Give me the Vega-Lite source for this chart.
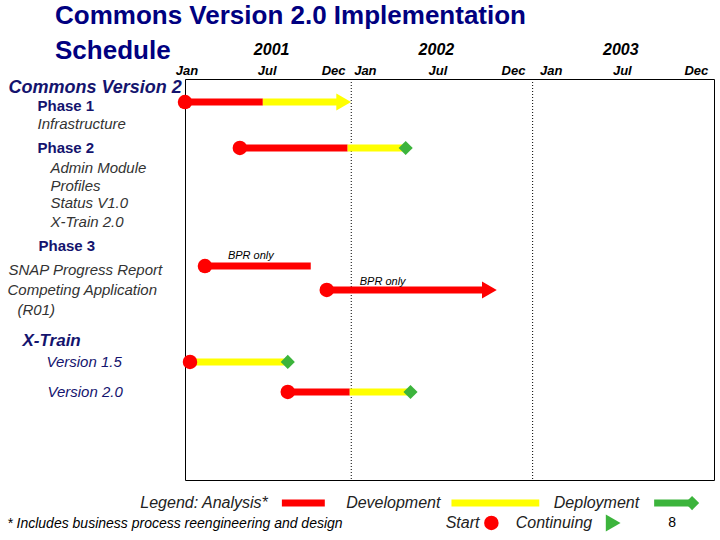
{
  "$schema": "https://vega.github.io/schema/vega-lite/v6.json",
  "autosize": {"type": "none"},
  "width": 529,
  "height": 401,
  "padding": {"left": 185, "top": 79, "right": 6, "bottom": 60},
  "background": "white",
  "title": {
    "text": ["Commons Version 2.0 Implementation", "Schedule"],
    "anchor": "start",
    "frame": "group",
    "dx": -130,
    "offset": -23,
    "lineHeight": 35,
    "font": "Liberation Sans",
    "fontSize": 26,
    "fontWeight": "bold",
    "color": "#000080"
  },
  "config": {
    "view": {"stroke": "black", "strokeWidth": 1},
    "font": "Liberation Sans"
  },
  "datasets": {
    "yearLines": [{"month": 12}, {"month": 24}],
    "segments": [
      {"task": "Phase 1", "phase": "Analysis", "start": 1, "end": 6.15, "row": 1.15},
      {"task": "Phase 1", "phase": "Development", "start": 6.15, "end": 11.3, "row": 1.15},
      {"task": "Phase 2", "phase": "Analysis", "start": 4.63, "end": 11.76, "row": 3.44},
      {"task": "Phase 2", "phase": "Development", "start": 11.76, "end": 15.4, "row": 3.44},
      {"task": "SNAP Progress Report", "phase": "Analysis", "start": 2.32, "end": 9.32, "row": 9.33},
      {"task": "Competing Application", "phase": "Analysis", "start": 10.38, "end": 20.8, "row": 10.52},
      {"task": "X-Train Version 1.5", "phase": "Development", "start": 1.33, "end": 7.6, "row": 14.11},
      {"task": "X-Train Version 2.0", "phase": "Analysis", "start": 7.8, "end": 11.9, "row": 15.61},
      {"task": "X-Train Version 2.0", "phase": "Development", "start": 11.9, "end": 15.7, "row": 15.61},
      {"task": "Legend", "phase": "Analysis", "start": 7.41, "end": 10.25, "row": 21.15},
      {"task": "Legend", "phase": "Development", "start": 18.63, "end": 24.44, "row": 21.15},
      {"task": "Legend", "phase": "Deployment", "start": 32.04, "end": 34.35, "row": 21.15}
    ],
    "starts": [
      {"task": "Phase 1", "month": 1, "row": 1.15},
      {"task": "Phase 2", "month": 4.63, "row": 3.44},
      {"task": "SNAP Progress Report", "month": 2.32, "row": 9.33},
      {"task": "Competing Application", "month": 10.38, "row": 10.52},
      {"task": "X-Train Version 1.5", "month": 1.33, "row": 14.11},
      {"task": "X-Train Version 2.0", "month": 7.8, "row": 15.61},
      {"task": "Legend Start", "month": 21.27, "row": 22.14}
    ],
    "deployments": [
      {"task": "Phase 2", "month": 15.6, "row": 3.44},
      {"task": "X-Train Version 1.5", "month": 7.8, "row": 14.11},
      {"task": "X-Train Version 2.0", "month": 15.92, "row": 15.61},
      {"task": "Legend", "month": 34.55, "row": 21.15}
    ],
    "continuing": [
      {"task": "Phase 1", "phase": "Development", "month": 11.5, "row": 1.15},
      {"task": "Competing Application", "phase": "Analysis", "month": 21.14, "row": 10.52},
      {"task": "Legend Continuing", "phase": "Deployment", "month": 29.33, "row": 22.14}
    ],
    "notes": [
      {"text": "BPR only", "month": 3.84, "row": 8.83},
      {"text": "BPR only", "month": 12.56, "row": 10.12}
    ],
    "legendText": [
      {"text": "Legend:  Analysis*", "month": 6.48, "row": 21.15},
      {"text": "Development", "month": 17.9, "row": 21.15},
      {"text": "Deployment", "month": 31.05, "row": 21.15},
      {"text": "Start", "month": 20.48, "row": 22.14},
      {"text": "Continuing", "month": 27.94, "row": 22.14}
    ],
    "footnote": [
      {"text": "* Includes business process reengineering and design", "month": 11.43, "row": 22.2}
    ],
    "pageNumber": [
      {"text": "8", "month": 33.23, "row": 22.14}
    ]
  },
  "resolve": {"axis": {"x": "independent", "y": "independent"}},
  "layer": [
    {
      "data": {"name": "yearLines"},
      "mark": {"type": "rule", "strokeDash": [1, 2], "color": "#000000", "strokeWidth": 1},
      "encoding": {
        "x": {
          "field": "month", "type": "quantitative",
          "scale": {"domain": [1, 36], "nice": false, "zero": false},
          "axis": {
            "orient": "top",
            "values": [1.1, 6.4, 10.8, 12.9, 17.7, 22.7, 25.2, 29.9, 34.8],
            "labelExpr": "datum.value % 12 < 3 ? 'Jan' : (datum.value % 12 < 8 ? 'Jul' : 'Dec')",
            "ticks": false, "domain": false, "grid": false, "title": null,
            "labelPadding": 2,
            "labelFont": "Liberation Sans Narrow, Arial Narrow, Liberation Sans",
            "labelFontWeight": "bold", "labelFontStyle": "italic",
            "labelFontSize": 13, "labelColor": "#000000",
            "labelFlush": false, "labelOverlap": false
          }
        }
      }
    },
    {
      "data": {"name": "segments"},
      "mark": {"type": "rule", "strokeWidth": 7, "strokeCap": "butt"},
      "encoding": {
        "x": {
          "field": "start", "type": "quantitative",
          "scale": {"domain": [1, 36], "nice": false, "zero": false},
          "axis": {
            "orient": "top",
            "values": [6.7, 17.6, 29.8],
            "labelExpr": "datum.value < 12 ? '2001' : (datum.value < 24 ? '2002' : '2003')",
            "ticks": false, "domain": false, "grid": false, "title": null,
            "offset": 20, "labelPadding": 2,
            "labelFont": "Liberation Sans Narrow, Arial Narrow, Liberation Sans",
            "labelFontWeight": "bold", "labelFontStyle": "italic",
            "labelFontSize": 16, "labelColor": "#000000",
            "labelFlush": false, "labelOverlap": false
          }
        },
        "x2": {"field": "end"},
        "y": {
          "field": "row", "type": "quantitative",
          "scale": {"domain": [0, 20], "reverse": true, "nice": false, "zero": false},
          "axis": {
            "values": [1.3, 2.24, 3.44, 4.39, 5.29, 6.18, 7.13, 8.28, 9.48, 10.52, 11.52, 13.02, 14.11, 15.61],
            "labelExpr": "datum.value < 2 ? 'Phase 1' : datum.value < 3 ? 'Infrastructure' : datum.value < 4 ? 'Phase 2' : datum.value < 5 ? 'Admin Module' : datum.value < 6 ? 'Profiles' : datum.value < 7 ? 'Status V1.0' : datum.value < 8 ? 'X-Train 2.0' : datum.value < 9 ? 'Phase 3' : datum.value < 10 ? 'SNAP Progress Report' : datum.value < 11 ? 'Competing Application' : datum.value < 12 ? '(R01)' : datum.value < 14 ? 'X-Train' : datum.value < 15 ? 'Version 1.5' : 'Version 2.0'",
            "labelAlign": "left", "labelBaseline": "middle",
            "ticks": false, "domain": false, "grid": false,
            "labelOverlap": false, "labelFlush": false, "labelLimit": 400,
            "labelFont": "Liberation Sans",
            "labelFontSize": {"condition": {"test": "datum.value > 12 && datum.value < 14", "value": 17}, "value": 15},
            "labelFontWeight": {"condition": {"test": "datum.value < 2 || (datum.value > 3 && datum.value < 4) || (datum.value > 8 && datum.value < 9) || (datum.value > 12 && datum.value < 14)", "value": "bold"}, "value": "normal"},
            "labelFontStyle": {"condition": {"test": "datum.value < 2 || (datum.value > 3 && datum.value < 4) || (datum.value > 8 && datum.value < 9)", "value": "normal"}, "value": "italic"},
            "labelColor": {"condition": {"test": "datum.value < 2 || (datum.value > 3 && datum.value < 4) || (datum.value > 8 && datum.value < 9) || datum.value > 12", "value": "#14146e"}, "value": "#333333"},
            "labelPadding": {
              "condition": [
                {"test": "datum.value < 4", "value": 148},
                {"test": "datum.value < 8", "value": 135},
                {"test": "datum.value < 9", "value": 147},
                {"test": "datum.value < 10", "value": 177},
                {"test": "datum.value < 11", "value": 178},
                {"test": "datum.value < 12", "value": 168},
                {"test": "datum.value < 14", "value": 163},
                {"test": "datum.value < 15", "value": 139}
              ],
              "value": 138
            },
            "title": "Commons Version 2",
            "titleAngle": 0, "titleAlign": "left", "titleBaseline": "middle",
            "titleX": -177, "titleY": 8,
            "titleFont": "Liberation Sans", "titleFontSize": 18,
            "titleFontWeight": "bold", "titleFontStyle": "italic",
            "titleColor": "#14146e"
          }
        },
        "color": {
          "field": "phase", "type": "nominal",
          "scale": {"domain": ["Analysis", "Development", "Deployment"], "range": ["#ff0000", "#ffff00", "#3cb43c"]},
          "legend": null
        }
      }
    },
    {
      "data": {"name": "starts"},
      "mark": {"type": "point", "shape": "circle", "filled": true, "color": "#ff0000", "opacity": 1, "size": 210},
      "encoding": {
        "x": {"field": "month", "type": "quantitative", "axis": null},
        "y": {"field": "row", "type": "quantitative", "axis": null}
      }
    },
    {
      "data": {"name": "deployments"},
      "mark": {"type": "point", "shape": "diamond", "filled": true, "color": "#3cb43c", "opacity": 1, "size": 200},
      "encoding": {
        "x": {"field": "month", "type": "quantitative", "axis": null},
        "y": {"field": "row", "type": "quantitative", "axis": null}
      }
    },
    {
      "data": {"name": "continuing"},
      "mark": {"type": "point", "shape": "triangle-right", "filled": true, "opacity": 1, "size": 290},
      "encoding": {
        "x": {"field": "month", "type": "quantitative", "axis": null},
        "y": {"field": "row", "type": "quantitative", "axis": null},
        "color": {"field": "phase", "type": "nominal", "legend": null}
      }
    },
    {
      "data": {"name": "notes"},
      "mark": {"type": "text", "align": "left", "baseline": "middle", "fontStyle": "italic", "fontSize": 11, "color": "#000000"},
      "encoding": {
        "x": {"field": "month", "type": "quantitative", "axis": null},
        "y": {"field": "row", "type": "quantitative", "axis": null},
        "text": {"field": "text"}
      }
    },
    {
      "data": {"name": "legendText"},
      "mark": {"type": "text", "align": "right", "baseline": "middle", "fontStyle": "italic", "fontSize": 16, "color": "#222222"},
      "encoding": {
        "x": {"field": "month", "type": "quantitative", "axis": null},
        "y": {"field": "row", "type": "quantitative", "axis": null},
        "text": {"field": "text"}
      }
    },
    {
      "data": {"name": "footnote"},
      "mark": {"type": "text", "align": "right", "baseline": "middle", "fontStyle": "italic", "fontSize": 14, "color": "#000000"},
      "encoding": {
        "x": {"field": "month", "type": "quantitative", "axis": null},
        "y": {"field": "row", "type": "quantitative", "axis": null},
        "text": {"field": "text"}
      }
    },
    {
      "data": {"name": "pageNumber"},
      "mark": {"type": "text", "align": "center", "baseline": "middle", "fontSize": 14, "color": "#000000"},
      "encoding": {
        "x": {"field": "month", "type": "quantitative", "axis": null},
        "y": {"field": "row", "type": "quantitative", "axis": null},
        "text": {"field": "text"}
      }
    }
  ]
}
